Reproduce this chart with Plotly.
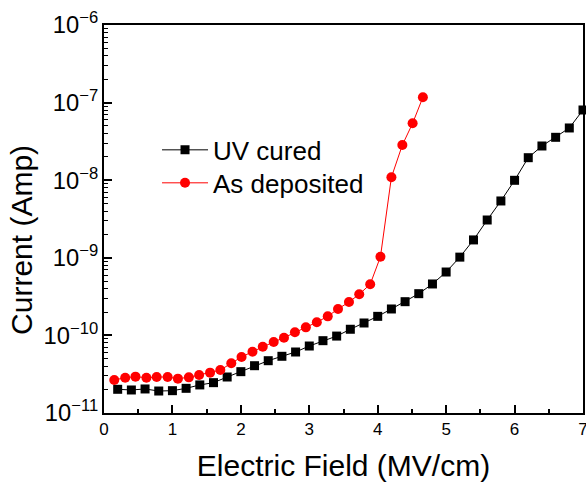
import plotly.graph_objects as go

# UV cured
uv_x = [0.2, 0.4, 0.6, 0.8, 1.0, 1.2, 1.4, 1.6, 1.8, 2.0, 2.2, 2.4, 2.6, 2.8,
        3.0, 3.2, 3.4, 3.6, 3.8, 4.0, 4.2, 4.4, 4.6, 4.8, 5.0, 5.2, 5.4,
        5.6, 5.8, 6.0, 6.2, 6.4, 6.6, 6.8, 7.0]
uv_y = [2.02e-11, 1.98e-11, 2.04e-11, 1.92e-11, 1.94e-11, 2.08e-11, 2.30e-11,
        2.46e-11, 2.91e-11, 3.41e-11, 4.07e-11, 4.72e-11, 5.38e-11, 6.11e-11,
        7.3e-11, 8.55e-11, 9.8e-11, 1.2e-10, 1.445e-10, 1.76e-10, 2.19e-10,
        2.72e-10, 3.45e-10, 4.6e-10, 6.56e-10, 1.02e-9, 1.7e-9,
        3.07e-9, 5.4e-9, 9.97e-9, 1.95e-8, 2.76e-8, 3.57e-8, 4.71e-8, 8.03e-8]

# As deposited
ad_x = [0.15, 0.31, 0.46, 0.62, 0.77, 0.93, 1.08, 1.24, 1.39, 1.55, 1.70,
        1.86, 2.01, 2.17, 2.32, 2.48, 2.63, 2.79, 2.95, 3.11, 3.27, 3.42,
        3.58, 3.73, 3.89, 4.04, 4.20, 4.36, 4.51, 4.66]
ad_y = [2.66e-11, 2.85e-11, 2.94e-11, 2.85e-11, 2.91e-11, 2.91e-11, 2.77e-11,
        2.88e-11, 3.09e-11, 3.31e-11, 3.58e-11, 4.37e-11, 5.27e-11, 6.17e-11,
        7.15e-11, 8.22e-11, 9.34e-11, 1.10e-10, 1.27e-10, 1.48e-10, 1.76e-10,
        2.19e-10, 2.69e-10, 3.39e-10, 4.56e-10, 1.03e-9, 1.09e-8, 2.84e-8,
        5.41e-8, 1.17e-7]

FONT = "Liberation Sans"

fig = go.Figure()
fig.add_trace(go.Scatter(
    x=uv_x, y=uv_y, name="UV cured", mode="lines+markers",
    line=dict(color="black", width=1),
    marker=dict(symbol="square", size=9, color="black"),
    cliponaxis=False, legend="legend",
))
fig.add_trace(go.Scatter(
    x=ad_x, y=ad_y, name="As deposited", mode="lines+markers",
    line=dict(color="red", width=1),
    marker=dict(symbol="circle", size=10, color="red"),
    cliponaxis=False, legend="legend2",
))

leg_common = dict(
    xanchor="left", yanchor="middle",
    font=dict(size=26, family=FONT), itemwidth=46,
    bgcolor="rgba(0,0,0,0)",
)

fig.update_layout(
    width=586, height=483,
    margin=dict(l=104, r=3, t=25, b=70, autoexpand=False),
    paper_bgcolor="white", plot_bgcolor="white",
    font=dict(family=FONT, color="black"),
    showlegend=True,
    legend=dict(x=0.1107, y=0.678, **leg_common),
    legend2=dict(x=0.1107, y=0.593, **leg_common),
    xaxis=dict(
        range=[0, 7], dtick=1, tick0=0, automargin=False,
        ticklabeloverflow="allow",
        showgrid=False, zeroline=False,
        showline=True, linewidth=2, linecolor="black", mirror=True,
        ticks="inside", ticklen=8, tickwidth=1.5, tickcolor="black",
        minor=dict(ticks="inside", ticklen=4, dtick=0.5, tick0=0, tickcolor="black", tickwidth=1.5),
        tickfont=dict(size=17, family=FONT),
        title=dict(text="Electric Field (MV/cm)", font=dict(size=30, family=FONT), standoff=17),
    ),
    yaxis=dict(
        type="log", range=[-11, -6], dtick=1, automargin=False,
        exponentformat="power", showexponent="all",
        showgrid=False, zeroline=False,
        showline=True, linewidth=2, linecolor="black", mirror=True,
        ticks="inside", ticklen=8, tickwidth=1.5, tickcolor="black",
        minor=dict(ticks="inside", ticklen=4, dtick="D1", tickcolor="black", tickwidth=1),
        tickfont=dict(size=19, family=FONT),
    ),
    annotations=[dict(
        text="Current (Amp)", textangle=-90,
        xref="paper", yref="paper", x=-0.1712, y=0.446,
        xanchor="center", yanchor="middle", showarrow=False,
        font=dict(size=30, family=FONT, color="black"),
    )],
)

fig.write_html(
    "out.html",
    config={"displayModeBar": False},
    post_script="document.body.style.margin='0';document.body.style.padding='0';",
)
